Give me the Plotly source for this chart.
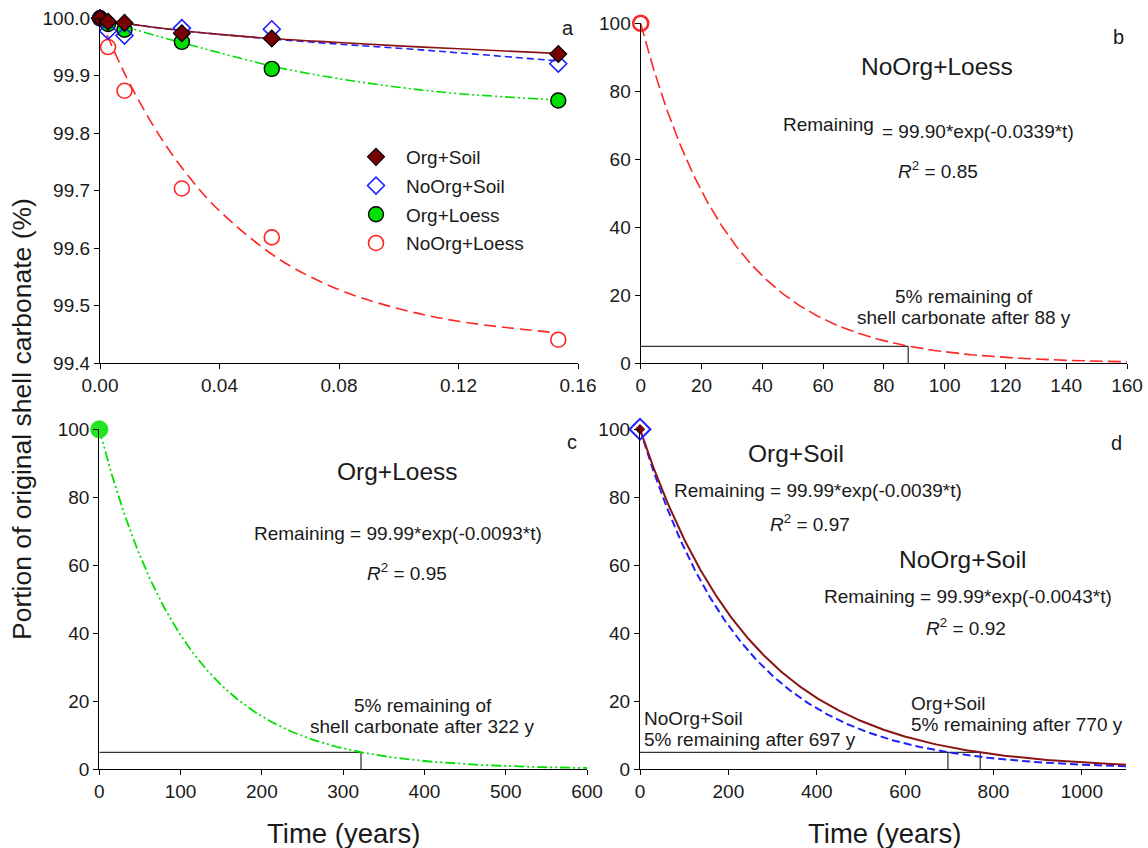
import numpy as np
import plotly.graph_objects as go

W, H = 1148, 848
FONT = "Arial, 'Liberation Sans', sans-serif"
TXT = "#1a1a1a"

# ---------------- Panel a: measured data (years) ----------------
t_years = [0.0, 0.0027, 0.0082, 0.0274, 0.0575, 0.1534]
org_soil = [100.0, 99.994, 99.992, 99.974, 99.965, 99.938]
noorg_soil = [100.0, 99.978, 99.970, 99.983, 99.981, 99.921]
org_loess = [100.0, 99.990, 99.980, 99.959, 99.912, 99.857]
noorg_loess = [100.0, 99.950, 99.874, 99.704, 99.619, 99.441]

# fitted curves in panel a
fit_t = [0.0, 0.005, 0.01, 0.02, 0.03, 0.04, 0.06, 0.08, 0.10, 0.12, 0.153]
fit_org_soil = [100.0, 99.994, 99.990, 99.983, 99.977, 99.972, 99.964, 99.958, 99.952, 99.947, 99.939]
fit_noorg_soil = [100.0, 99.994, 99.990, 99.983, 99.977, 99.972, 99.963, 99.955, 99.948, 99.940, 99.926]
fit_org_loess = [100.0, 99.991, 99.983, 99.968, 99.954, 99.940, 99.914, 99.895, 99.880, 99.869, 99.858]
fit_noorg_loess = [100.0, 99.940, 99.886, 99.795, 99.723, 99.665, 99.581, 99.528, 99.495, 99.473, 99.453]

# ---------------- Panels b-d: fitted decay models ----------------
model_names = ["NoOrg+Loess", "Org+Loess", "Org+Soil", "NoOrg+Soil"]
model_amp = [99.90, 99.99, 99.99, 99.99]
model_rate = [0.0339, 0.0093, 0.0039, 0.0043]
model_r2 = [0.85, 0.95, 0.97, 0.92]
years_to_5pct = [88, 322, 770, 697]
panel_tmax = [160, 600, 1100, 1100]
threshold_pct = 5

C_DRED = "#760000"
C_DRED_LINE = "#8a1414"
C_BLUE = "#1f1fff"
C_GREEN = "#00e000"
C_RED = "#ff2626"


def px_x(p):
    return p / W


def px_y(p):
    return 1 - p / H


fig = go.Figure()


def curve(i, n=400):
    t = np.linspace(0, panel_tmax[i], n)
    return t, model_amp[i] * np.exp(-model_rate[i] * t)


# ---- panel a fit lines ----
fig.add_trace(go.Scatter(x=fit_t, y=fit_noorg_loess, mode="lines", line_shape="spline",
                         line=dict(color=C_RED, width=1.6, dash="12px,6px"), showlegend=False,
                         xaxis="x", yaxis="y"))
fig.add_trace(go.Scatter(x=fit_t, y=fit_org_loess, mode="lines", line_shape="spline",
                         line=dict(color=C_GREEN, width=1.6, dash="10px,3px,2px,3px,2px,3px"),
                         showlegend=False, xaxis="x", yaxis="y"))
fig.add_trace(go.Scatter(x=fit_t, y=fit_noorg_soil, mode="lines", line_shape="spline",
                         line=dict(color=C_BLUE, width=1.6, dash="7px,4px"), showlegend=False,
                         xaxis="x", yaxis="y"))
fig.add_trace(go.Scatter(x=fit_t, y=fit_org_soil, mode="lines", line_shape="spline",
                         line=dict(color=C_DRED_LINE, width=1.6), showlegend=False,
                         xaxis="x", yaxis="y"))

# ---- panel a markers (legend) ----
fig.add_trace(go.Scatter(x=t_years, y=noorg_loess, mode="markers", name="NoOrg+Loess",
                         marker=dict(symbol="circle-open", size=15, color=C_RED, line=dict(width=1.6)),
                         cliponaxis=False, xaxis="x", yaxis="y", legendrank=4, legendgroup="g4"))
fig.add_trace(go.Scatter(x=t_years, y=org_loess, mode="markers", name="Org+Loess",
                         marker=dict(symbol="circle", size=15, color=C_GREEN,
                                     line=dict(color="black", width=1.4)),
                         cliponaxis=False, xaxis="x", yaxis="y", legendrank=3, legendgroup="g3"))
fig.add_trace(go.Scatter(x=t_years, y=noorg_soil, mode="markers", name="NoOrg+Soil",
                         marker=dict(symbol="diamond-open", size=13, color=C_BLUE, line=dict(width=1.6)),
                         cliponaxis=False, xaxis="x", yaxis="y", legendrank=2, legendgroup="g2"))
fig.add_trace(go.Scatter(x=t_years, y=org_soil, mode="markers", name="Org+Soil",
                         marker=dict(symbol="diamond", size=13, color=C_DRED,
                                     line=dict(color="black", width=1.2)),
                         cliponaxis=False, xaxis="x", yaxis="y", legendrank=1, legendgroup="g1"))


def threshold_lines(ax, t5list):
    xs, ys = [0, max(t5list)], [threshold_pct, threshold_pct]
    fig.add_trace(go.Scatter(x=xs, y=ys, mode="lines", line=dict(color="black", width=1),
                             showlegend=False, xaxis="x" + ax, yaxis="y" + ax))
    for t5 in t5list:
        fig.add_trace(go.Scatter(x=[t5, t5], y=[0, threshold_pct], mode="lines",
                                 line=dict(color="black", width=1),
                                 showlegend=False, xaxis="x" + ax, yaxis="y" + ax))


# ---- panel b ----
threshold_lines("2", [years_to_5pct[0]])
t, y = curve(0)
fig.add_trace(go.Scatter(x=t, y=y, mode="lines", line=dict(color=C_RED, width=1.6, dash="13px,5px"),
                         showlegend=False, xaxis="x2", yaxis="y2"))
fig.add_trace(go.Scatter(x=[t_years[0]], y=[noorg_loess[0]], mode="markers",
                         marker=dict(symbol="circle-open", size=15, color=C_RED, line=dict(width=2.5)),
                         cliponaxis=False, showlegend=False, xaxis="x2", yaxis="y2"))

# ---- panel c ----
threshold_lines("3", [years_to_5pct[1]])
t, y = curve(1)
fig.add_trace(go.Scatter(x=t, y=y, mode="lines",
                         line=dict(color=C_GREEN, width=1.8, dash="10px,3px,2px,3px,2px,3px"),
                         showlegend=False, xaxis="x3", yaxis="y3"))
fig.add_trace(go.Scatter(x=[t_years[0]], y=[org_loess[0]], mode="markers",
                         marker=dict(symbol="circle", size=18, color="#22e622"),
                         cliponaxis=False, showlegend=False, xaxis="x3", yaxis="y3"))

# ---- panel d ----
threshold_lines("4", [years_to_5pct[3], years_to_5pct[2]])
t, y = curve(3)
fig.add_trace(go.Scatter(x=t, y=y, mode="lines", line=dict(color=C_BLUE, width=2, dash="8px,4px"),
                         showlegend=False, xaxis="x4", yaxis="y4"))
t, y = curve(2)
fig.add_trace(go.Scatter(x=t, y=y, mode="lines", line=dict(color=C_DRED_LINE, width=2),
                         showlegend=False, xaxis="x4", yaxis="y4"))
fig.add_trace(go.Scatter(x=[t_years[0]], y=[noorg_soil[0]], mode="markers",
                         marker=dict(symbol="diamond-open", size=16, color=C_BLUE, line=dict(width=2)),
                         cliponaxis=False, showlegend=False, xaxis="x4", yaxis="y4"))
fig.add_trace(go.Scatter(x=[t_years[0]], y=[org_soil[0]], mode="markers",
                         marker=dict(symbol="diamond", size=8, color=C_DRED),
                         cliponaxis=False, showlegend=False, xaxis="x4", yaxis="y4"))

# ---- axes ----
axis_common = dict(showline=True, linecolor="black", linewidth=1.3, ticks="outside", ticklen=5,
                   tickwidth=1.3, tickcolor="black", showgrid=False, zeroline=False,
                   tickfont=dict(family=FONT, size=19, color=TXT), mirror=False, fixedrange=True,
                   automargin=False)

fig.update_layout(
    template="none",
    xaxis=dict(domain=[px_x(100), px_x(578)], anchor="y", range=[0, 0.16], dtick=0.04,
               tickformat=".2f", **axis_common),
    yaxis=dict(domain=[px_y(363.3), px_y(18.3)], anchor="x", range=[99.4, 100.0], dtick=0.1,
               tickformat=".1f", **axis_common),
    xaxis2=dict(domain=[px_x(640.7), px_x(1127)], anchor="y2", range=[0, 160], dtick=20, **axis_common),
    yaxis2=dict(domain=[px_y(363.3), px_y(23.3)], anchor="x2", range=[0, 100], dtick=20, **axis_common),
    xaxis3=dict(domain=[px_x(99.3), px_x(587)], anchor="y3", range=[0, 600], dtick=100, **axis_common),
    yaxis3=dict(domain=[px_y(769.3), px_y(429.3)], anchor="x3", range=[0, 100], dtick=20, **axis_common),
    xaxis4=dict(domain=[px_x(640), px_x(1126)], anchor="y4", range=[0, 1100], dtick=200, **axis_common),
    yaxis4=dict(domain=[px_y(769.3), px_y(429.3)], anchor="x4", range=[0, 100], dtick=20, **axis_common),
)

# ---- annotations ----
ann = []


def text(px, py, s, size=19, xanchor="center", yanchor="middle"):
    ann.append(dict(x=px_x(px), y=px_y(py), xref="paper", yref="paper", text=s, showarrow=False,
                    xanchor=xanchor, yanchor=yanchor,
                    font=dict(family=FONT, size=size, color=TXT)))


def r2txt(v):
    return "<i>R</i><sup>2</sup> = " + f"{v:.2f}"


def eqtxt(i):
    return "= " + f"{model_amp[i]:.2f}*exp(-{model_rate[i]:.4f}*t)"


def five_pct(n):
    return str(threshold_pct) + "% remaining after " + str(n) + " y"


text(568, 28, "a", 20)
text(1118, 37, "b", 20)
text(572, 442, "c", 20)
text(1116, 443, "d", 20)

# panel b
text(937, 66, model_names[0], 24.5)
text(876, 125, "Remaining", 19, xanchor="right")
text(880, 131, eqtxt(0), 19, xanchor="left")
text(938, 170, r2txt(model_r2[0]), 19)
text(964, 296, str(threshold_pct) + "% remaining of", 19)
text(964, 317, "shell carbonate after " + str(years_to_5pct[0]) + " y", 19)

# panel c
text(397, 471, model_names[1], 24.5)
text(398, 533, "Remaining " + eqtxt(1), 19)
text(407, 572, r2txt(model_r2[1]), 19)
text(423, 705, str(threshold_pct) + "% remaining of", 19)
text(422, 726, "shell carbonate after " + str(years_to_5pct[1]) + " y", 19)

# panel d
text(796, 453, model_names[2], 24.5)
text(818, 490, "Remaining " + eqtxt(2), 19)
text(810, 523, r2txt(model_r2[2]), 19)
text(962, 559, model_names[3], 24.5)
text(968, 596, "Remaining " + eqtxt(3), 19)
text(966, 627, r2txt(model_r2[3]), 19)
text(909, 703, model_names[2], 19, xanchor="left")
text(909, 724, five_pct(years_to_5pct[2]), 19, xanchor="left")
text(642, 718, model_names[3], 19, xanchor="left")
text(642, 739, five_pct(years_to_5pct[3]), 19, xanchor="left")

# axis titles
text(343, 833, "Time (years)", 27.5)
text(884, 833, "Time (years)", 27.5)
ann.append(dict(x=px_x(22), y=px_y(419), xref="paper", yref="paper",
                text="Portion of original shell carbonate (%)", showarrow=False, textangle=-90,
                xanchor="center", yanchor="middle", font=dict(family=FONT, size=26.5, color=TXT)))

fig.update_layout(
    annotations=ann,
    width=W, height=H, margin=dict(l=0, r=0, t=0, b=0),
    paper_bgcolor="white", plot_bgcolor="white",
    font=dict(family=FONT, color=TXT),
    legend=dict(x=px_x(346), y=px_y(138), xanchor="left", yanchor="top",
                bgcolor="rgba(0,0,0,0)", font=dict(family=FONT, size=19, color=TXT),
                traceorder="grouped", tracegroupgap=1, itemsizing="trace", itemwidth=50),
    showlegend=True,
)

fig.write_html("out.html")
